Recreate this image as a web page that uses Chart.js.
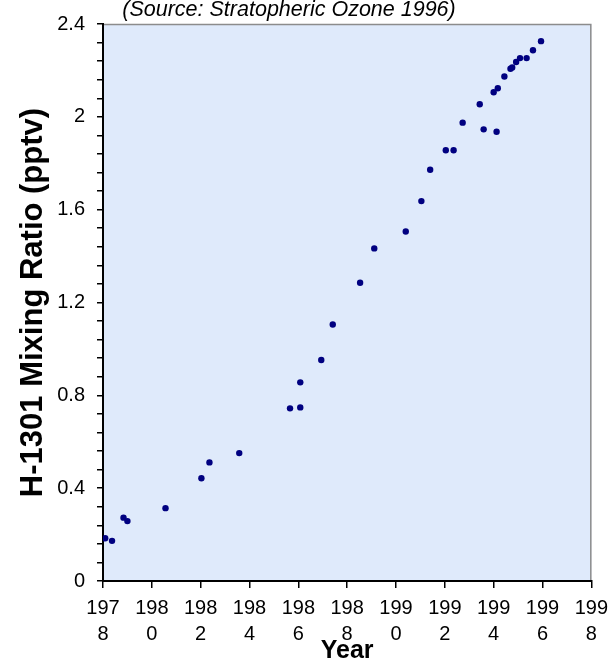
<!DOCTYPE html>
<html>
<head>
<meta charset="utf-8">
<script src="https://cdn.jsdelivr.net/npm/chart.js@4/dist/chart.umd.min.js"></script>
<style>
  html, body { margin: 0; padding: 0; background: #ffffff; }
  #wrap { width: 615px; height: 660px; position: relative; }
</style>
</head>
<body>
<div id="wrap"><canvas id="c" width="615" height="660"></canvas></div>
<script>
// ---- Data ----
const years = [1978.09, 1978.37, 1978.84, 1979.00, 1980.56, 1982.03, 1982.36, 1983.58,
  1985.66, 1986.08, 1986.08, 1986.94, 1987.41, 1988.53, 1989.11, 1990.40, 1991.04,
  1991.40, 1992.04, 1992.36, 1992.73, 1993.43, 1993.59, 1994.12, 1994.00, 1994.17,
  1994.44, 1994.69, 1994.76, 1994.92, 1995.08, 1995.35, 1995.61, 1995.94];
const ratios = [0.184, 0.173, 0.273, 0.258, 0.314, 0.443, 0.511, 0.551,
  0.744, 0.748, 0.856, 0.952, 1.105, 1.285, 1.433, 1.506, 1.637,
  1.772, 1.856, 1.856, 1.975, 2.054, 1.946, 1.936, 2.106, 2.123,
  2.174, 2.207, 2.213, 2.236, 2.253, 2.253, 2.287, 2.326];
const xTickValues = [1978, 1980, 1982, 1984, 1986, 1988, 1990, 1992, 1994, 1996, 1998];
const xTickLabels = [['197','8'], ['198','0'], ['198','2'], ['198','4'], ['198','6'], ['198','8'],
  ['199','0'], ['199','2'], ['199','4'], ['199','6'], ['199','8']];
const yTickLabels = ['0', '0.4', '0.8', '1.2', '1.6', '2', '2.4'];
const chartTitle = '(Source: Stratopheric Ozone 1996)';
const xTitle = 'Year';
const yTitle = 'H-1301 Mixing Ratio (pptv)';

const FONT = "'Liberation Sans', Arial, sans-serif";

const points = years.map((x, i) => ({ x: x, y: ratios[i] }));

const decor = {
  id: 'decor',
  beforeDraw(chart) {
    const { ctx, chartArea: a } = chart;
    ctx.save();
    ctx.fillStyle = '#dfeafb';
    ctx.fillRect(a.left, a.top, a.right - a.left, a.bottom - a.top);
    ctx.strokeStyle = '#8c8c8c';
    ctx.lineWidth = 1.5;
    ctx.beginPath();
    ctx.moveTo(a.left, a.top + 0.5);
    ctx.lineTo(a.right - 0.5, a.top + 0.5);
    ctx.lineTo(a.right - 0.5, a.bottom);
    ctx.stroke();
    ctx.restore();
  },
  afterDraw(chart) {
    const { ctx, chartArea: a } = chart;
    ctx.save();
    ctx.fillStyle = '#000';
    ctx.textAlign = 'center';
    ctx.textBaseline = 'alphabetic';
    ctx.font = 'italic 21.5px ' + FONT;
    ctx.fillText(chartTitle, 289, 16);
    ctx.font = 'bold 25px ' + FONT;
    ctx.fillText(xTitle, (a.left + a.right) / 2, 658);
    ctx.translate(42, (a.top + a.bottom) / 2);
    ctx.rotate(-Math.PI / 2);
    ctx.font = 'bold 31px ' + FONT;
    ctx.fillText(yTitle, 0, 0);
    ctx.restore();
  }
};

new Chart(document.getElementById('c'), {
  type: 'scatter',
  data: {
    datasets: [{
      data: points,
      backgroundColor: '#000080',
      borderColor: '#000080',
      pointRadius: 3.2,
      pointHoverRadius: 3.2,
      borderWidth: 0
    }]
  },
  options: {
    responsive: false,
    animation: false,
    events: [],
    layout: { padding: { top: 24, right: 20, left: 0, bottom: 0 } },
    plugins: { legend: { display: false }, tooltip: { enabled: false }, title: { display: false } },
    scales: {
      x: {
        type: 'linear',
        min: 1978,
        max: 1998,
        afterBuildTicks(scale) { scale.ticks = xTickValues.map(v => ({ value: v })); },
        afterFit(scale) { scale.height = 79; },
        grid: { drawOnChartArea: false, drawTicks: true, tickLength: 7, color: '#000', lineWidth: 1.5 },
        border: { display: true, color: '#000', width: 2 },
        ticks: {
          autoSkip: false,
          maxRotation: 0,
          minRotation: 0,
          padding: 7,
          color: '#000',
          font: { family: FONT, size: 20, lineHeight: 1.3 },
          callback(value, index) { return xTickLabels[index]; }
        }
      },
      y: {
        type: 'linear',
        min: 0,
        max: 2.4,
        afterBuildTicks(scale) {
          const t = [];
          for (let i = 0; i <= 30; i++) t.push({ value: i * 0.08 });
          scale.ticks = t;
        },
        afterFit(scale) { scale.width = 103; },
        grid: { drawOnChartArea: false, drawTicks: true, tickLength: 6, color: '#000', lineWidth: 1.5 },
        border: { display: true, color: '#000', width: 2 },
        ticks: {
          autoSkip: false,
          padding: 12,
          color: '#000',
          font: { family: FONT, size: 20 },
          callback(value, index) { return index % 5 === 0 ? yTickLabels[index / 5] : ''; }
        }
      }
    }
  },
  plugins: [decor]
});
</script>
</body>
</html>
